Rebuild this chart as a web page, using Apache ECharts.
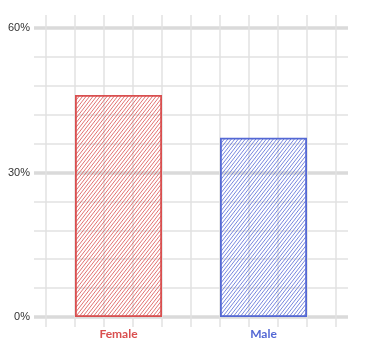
<!DOCTYPE html>
<html><head><meta charset="utf-8">
<script src="https://cdn.jsdelivr.net/npm/echarts@6/dist/echarts.min.js"></script>
<style>html,body{margin:0;padding:0;background:#fff}#c{width:366px;height:360px}</style>
</head><body><div id="c"></div>
<script>
const categories = ['Female', 'Male'];
const values = [46.1, 37.2];
const yTicks = [0, 30, 60];
const barColors = ['#d94f4f', '#5468d4'];

function hatch(color) {
  const w = 3.5, h = 4.5;
  const c = document.createElement('canvas');
  c.width = 7; c.height = 9;
  const g = c.getContext('2d');
  g.strokeStyle = color; g.lineWidth = 1; g.globalAlpha = 0.8;
  g.beginPath();
  for (let k = -3; k <= 3; k++) {
    g.moveTo(k * w, 9); g.lineTo(k * w + 7, 0);
  }
  g.stroke();
  return c;
}

const chart = echarts.init(document.getElementById('c'), null, {renderer: 'canvas'});
const font = 'Lato, "Noto Sans", sans-serif';
const gb = {outerBoundsMode: 'none', containLabel: false};
chart.setOption({
  animation: false,
  grid: [
    Object.assign({left: 46, right: 30, top: 28, bottom: 43}, gb),
    Object.assign({left: 34, right: 18, top: 28, bottom: 43}, gb),
    Object.assign({left: 46, right: 30, top: 15, bottom: 33}, gb)
  ],
  xAxis: [
    {type: 'category', gridIndex: 0, data: categories,
     axisLine: {show: false}, axisTick: {show: false}, splitLine: {show: false},
     axisLabel: {margin: 11, fontSize: 12, fontWeight: 'bold', fontFamily: font,
       color: function(v, i){ return barColors[i]; }}},
    {type: 'value', gridIndex: 1, show: false},
    {type: 'value', gridIndex: 2, min: 0, max: 10, interval: 1,
     axisLine: {show: false}, axisTick: {show: false}, axisLabel: {show: false},
     splitLine: {show: true, lineStyle: {color: '#e2e2e2', width: 1.5}}}
  ],
  yAxis: [
    {type: 'value', gridIndex: 0, min: 0, max: 60, interval: 30,
     axisLine: {show: false}, axisTick: {show: false}, splitLine: {show: false},
     axisLabel: {margin: 16, fontSize: 11, color: '#333', fontFamily: '"Liberation Sans", Arial, sans-serif',
       formatter: function(v){ return v + '%'; }}},
    {type: 'value', gridIndex: 1, min: 0, max: 60, interval: 6,
     axisLine: {show: false}, axisTick: {show: false}, axisLabel: {show: false},
     splitLine: {show: true, lineStyle: {color: '#e2e2e2', width: 1.5}}},
    {type: 'value', gridIndex: 1, min: 0, max: 60, interval: 30,
     axisLine: {show: false}, axisTick: {show: false}, axisLabel: {show: false},
     splitLine: {show: true, lineStyle: {color: '#dadada', width: 3.5}}},
    {type: 'value', gridIndex: 2, show: false}
  ],
  series: [
    {type: 'bar', xAxisIndex: 0, yAxisIndex: 0, barWidth: '60%', z: 5,
     data: values.map(function(v, i){
       return {value: v, itemStyle: {color: {image: hatch(barColors[i]), repeat: 'repeat'},
         borderColor: barColors[i], borderWidth: 1.8}};
     })}
  ]
});
</script></body></html>
